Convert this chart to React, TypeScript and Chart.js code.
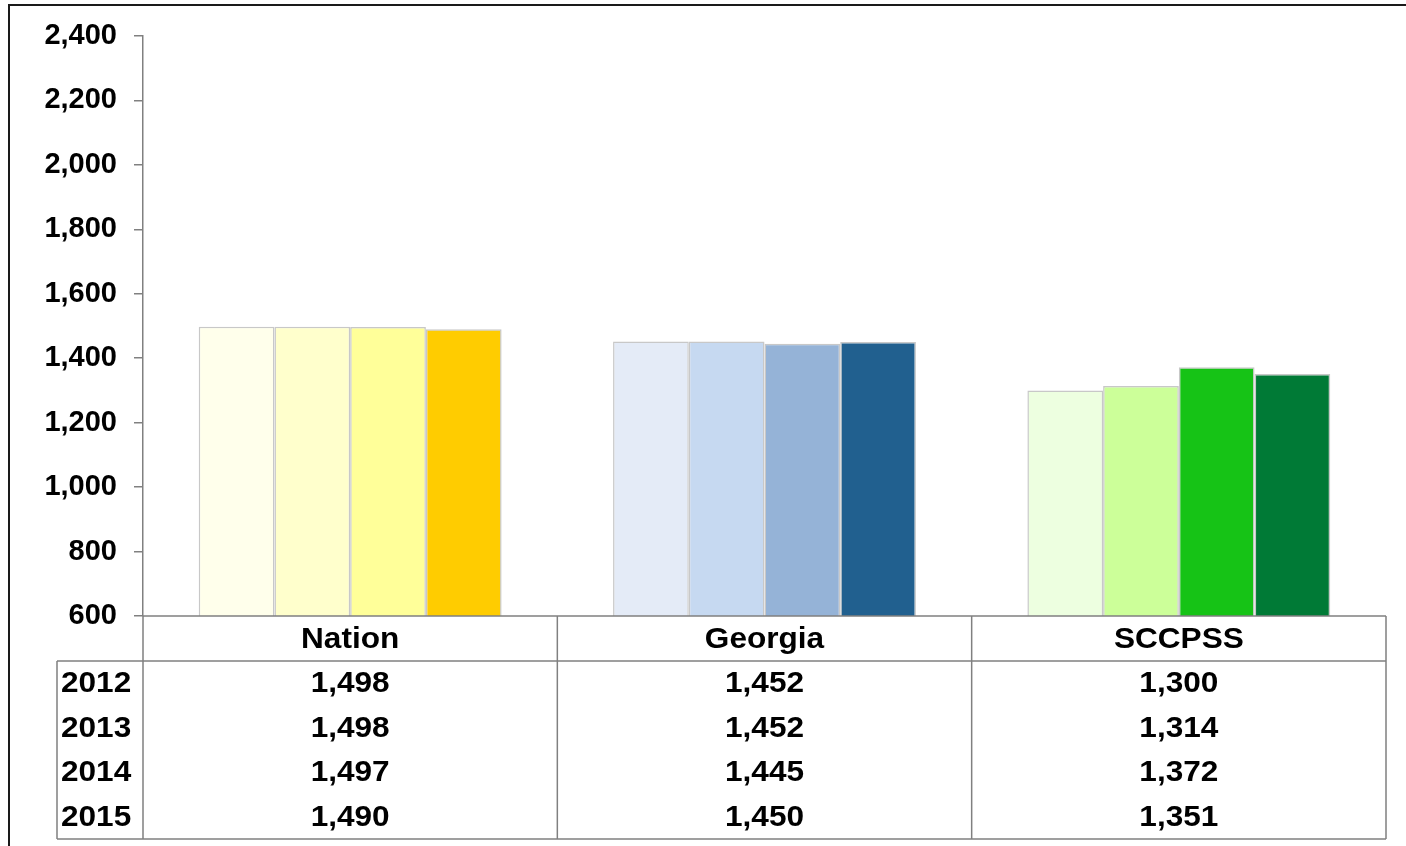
import React, { useEffect, useRef } from "react";
import { Chart, registerables } from "chart.js";

Chart.register(...registerables);

const categories = ["Nation", "Georgia", "SCCPSS"];
const years = ["2012", "2013", "2014", "2015"];
const values2012 = [1498, 1452, 1300];
const values2013 = [1498, 1452, 1314];
const values2014 = [1497, 1445, 1372];
const values2015 = [1490, 1450, 1351];
const seriesValues = [values2012, values2013, values2014, values2015];
const yTicks = [600, 800, 1000, 1200, 1400, 1600, 1800, 2000, 2200, 2400];

const colors2012 = ["#FFFFEB", "#E4EBF7", "#EDFFE0"];
const colors2013 = ["#FFFFCC", "#C6D9F1", "#CCFF99"];
const colors2014 = ["#FFFF99", "#95B3D7", "#16C316"];
const colors2015 = ["#FFCC00", "#21608F", "#007A36"];
const seriesColors = [colors2012, colors2013, colors2014, colors2015];

const FONT = "'Liberation Sans', Arial, sans-serif";
const fmt = (v: number) => v.toLocaleString("en-US");

const tablePlugin = {
  id: "dataTable",
  afterDraw(chart: any) {
    const ctx = chart.ctx as CanvasRenderingContext2D;
    const area = chart.chartArea;
    const xs = chart.scales.x;
    const left = area.left;
    const right = area.right;
    const top = area.bottom;
    const headerBottom = top + 45;
    const rowH = 44.5;
    const bottom = headerBottom + rowH * years.length + 0;
    const yearLeft = 57;
    const colW = (right - left) / categories.length;

    ctx.save();
    ctx.strokeStyle = "#1a1a1a";
    ctx.lineWidth = 2;
    ctx.strokeRect(9, 5, 1500, 1000);

    ctx.strokeStyle = "#808080";
    ctx.lineWidth = 1.5;
    ctx.beginPath();
    ctx.moveTo(left, top);
    ctx.lineTo(right, top);
    ctx.moveTo(yearLeft, headerBottom);
    ctx.lineTo(right, headerBottom);
    ctx.moveTo(yearLeft, bottom);
    ctx.lineTo(right, bottom);
    ctx.moveTo(yearLeft, headerBottom);
    ctx.lineTo(yearLeft, bottom);
    for (let i = 0; i <= categories.length; i++) {
      const x = left + colW * i;
      ctx.moveTo(x, top);
      ctx.lineTo(x, bottom);
    }
    ctx.stroke();

    ctx.fillStyle = "#000";
    ctx.textBaseline = "middle";
    const drawText = (t: string, x: number, y: number, align: CanvasTextAlign) => {
      ctx.save();
      ctx.translate(x, y);
      ctx.scale(1.07, 1);
      ctx.textAlign = align;
      ctx.font = `bold 29.5px ${FONT}`;
      ctx.fillText(t, 0, 1);
      ctx.restore();
    };
    categories.forEach((c, i) => {
      const cx = xs.getPixelForValue(i);
      drawText(c, cx, (top + headerBottom) / 2, "center");
      years.forEach((yr, r) => {
        const cy = headerBottom + rowH * r + rowH / 2;
        drawText(fmt(seriesValues[r][i]), cx, cy, "center");
      });
    });
    years.forEach((yr, r) => {
      const cy = headerBottom + rowH * r + rowH / 2;
      drawText(yr, yearLeft + 4, cy, "left");
    });
    ctx.restore();
  },
};

export default function App() {
  const ref = useRef<HTMLCanvasElement | null>(null);
  useEffect(() => {
    document.body.style.margin = "0";
    const canvas = ref.current!;
    const chart = new Chart(canvas, {
      type: "bar",
      data: {
        labels: categories,
        datasets: years.map((yr, i) => ({
          label: yr,
          data: seriesValues[i],
          backgroundColor: seriesColors[i],
          borderColor: "#C8C8C8",
          borderWidth: 1.5,
          categoryPercentage: 0.731,
          barPercentage: 1,
        })),
      },
      options: {
        animation: false,
        responsive: false,
        maintainAspectRatio: false,
        layout: { padding: { left: 0, top: 36, right: 20, bottom: 230 } },
        plugins: { legend: { display: false }, tooltip: { enabled: false } },
        scales: {
          x: { display: false },
          y: {
            min: 600,
            max: 2400,
            afterFit: (s: any) => {
              s.width = 143;
            },
            afterBuildTicks: (s: any) => {
              s.ticks = yTicks.map((v) => ({ value: v }));
            },
            border: { display: true, color: "#808080", width: 1.5 },
            grid: { drawOnChartArea: false, drawTicks: true, tickLength: 9, color: "#808080", lineWidth: 1.5 },
            ticks: {
              padding: 17,
              color: "#000",
              font: { family: FONT, size: 29, weight: "bold" },
              callback: (v: any) => fmt(Number(v)),
            },
          },
        },
      },
      plugins: [tablePlugin],
    });
    return () => chart.destroy();
  }, []);
  return (
    <div style={{ width: 1406, height: 846 }}>
      <canvas ref={ref} width={1406} height={846} style={{ display: "block", width: 1406, height: 846 }} />
    </div>
  );
}
